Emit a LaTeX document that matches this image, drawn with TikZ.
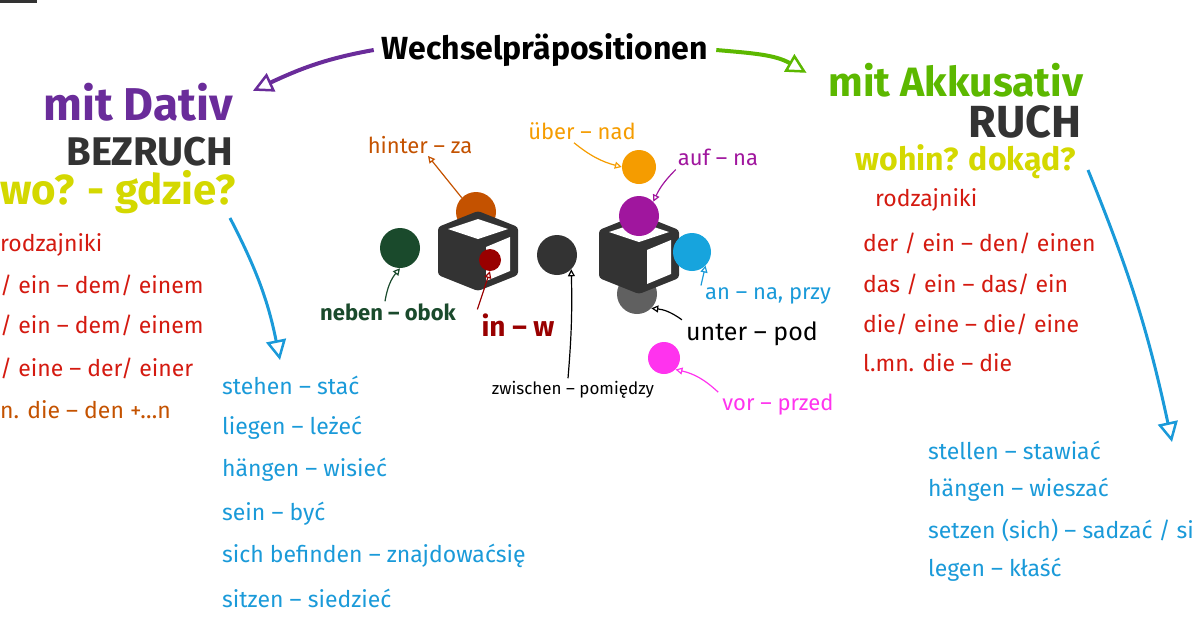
\documentclass[tikz,border=0pt]{standalone}
\usepackage{fontspec}
\setmainfont{Fira Sans}
\usetikzlibrary{arrows.meta,calc}
\definecolor{cpurple}{HTML}{6A2C9A}
\definecolor{cgreen}{HTML}{5CB800}
\definecolor{cyel}{HTML}{D4D800}
\definecolor{cred}{HTML}{D41A10}
\definecolor{cblue}{HTML}{1A9AD9}
\definecolor{cdark}{HTML}{333333}
\definecolor{cbrown}{HTML}{C45200}
\definecolor{corange}{HTML}{F59C00}
\definecolor{cmag}{HTML}{A0169E}
\definecolor{cpink}{HTML}{FF33EE}
\definecolor{cdgreen}{HTML}{1A4A2C}
\definecolor{cdred}{HTML}{990000}
\newcommand{\fsz}[1]{\fontsize{#1}{#1}\selectfont}
\tikzset{
 t/.style={inner sep=0pt},
 big/.style={t,font=\fsz{34}},
 mid/.style={t,font=\fsz{23}},
 lbl/.style={t,font=\fsz{22}},
 big arrow/.style={line width=4pt,-{Triangle[open,length=20pt,width=20pt,line width=2.5pt]}},
 thin arrow/.style={line width=1.2pt,-{Triangle[open,length=7pt,width=7pt]}},
 ball/.style={circle,inner sep=0pt},
}
\newcommand{\cube}[1]{%
 \begin{scope}[shift={#1}]
 \fill[cdark,rounded corners=3pt] (-40,-24) -- (0,-40) -- (40,-24) -- (40,24) -- (0,40) -- (-40,24) -- cycle;
 \fill[white] (-30,-22) -- (0,-32) -- (30,-22) -- (0,-12) -- cycle;
 \fill[white] (8,-4) -- (32,-14) -- (32,20) -- (8,30) -- cycle;
 \end{scope}}
\begin{document}
\begin{tikzpicture}[x=1pt,y=-1pt]
\useasboundingbox (0,0) rectangle (1200,630);
\fill[cdark] (0,0) rectangle (37,3);
\node[t,font=\fsz{32}\bfseries] (title) at (545,50) {Wechselpräpositionen};
\node[big,text=cpurple,font=\fsz{46}\bfseries] (dativ) at (138,102) {mit Dativ};
\node[big,text=cdark,font=\fsz{40}\bfseries] (bez) at (150,152) {BEZRUCH};
\node[big,text=cyel,font=\fsz{42}\bfseries,anchor=west] (wo) at (0,192) {wo? - gdzie?};
\node[big,text=cgreen,font=\fsz{41}\bfseries] (akk) at (956,80) {mit Akkusativ};
\node[big,text=cdark,font=\fsz{45}\bfseries] (ruch) at (1025,122) {RUCH};
\node[big,text=cyel,font=\fsz{32}\bfseries] (wohin) at (966,162) {wohin? dokąd?};
\draw[big arrow,cpurple] ([xshift=-8pt]title.west) to[out=190,in=25] ([xshift=20pt,yshift=-8pt]dativ.north east);
\draw[big arrow,cgreen] ([xshift=8pt]title.east) to[out=-5,in=150] ([xshift=-22pt,yshift=-10pt]akk.north west);
% lists
\begin{scope}[every node/.style={mid,text=cred,anchor=west}]
\node (r1) at (0,245) {rodzajniki};
\node (r2) at (0,285) {/ ein – dem/ einem};
\node (r3) at (0,325) {/ ein – dem/ einem};
\node (r4) at (0,368) {/ eine – der/ einer};
\node[text=cbrown] (r5) at (0,410) {n. die – den +…n};
\node (s1) at (875,200) {rodzajniki};
\node (s2) at (863,243) {der / ein – den/ einen};
\node (s3) at (863,284) {das / ein – das/ ein};
\node (s4) at (863,324) {die/ eine – die/ eine};
\node (s5) at (863,363) {l.mn. die – die};
\end{scope}
\begin{scope}[every node/.style={mid,text=cblue,anchor=west}]
\node (v1) at (222,385) {stehen – stać};
\node (v2) at (222,428) {liegen – leżeć};
\node (v3) at (222,470) {hängen – wisieć};
\node (v4) at (222,514) {sein – być};
\node (v5) at (222,556) {sich befinden – znajdowaćsię};
\node (v6) at (222,598) {sitzen – siedzieć};
\node (w1) at (928,450) {stellen – stawiać};
\node (w2) at (928,490) {hängen – wieszać};
\node (w3) at (928,530) {setzen (sich) – sadzać / si};
\node (w4) at (928,570) {legen – kłaść};
\end{scope}
\coordinate (a1s) at (230,218); \coordinate (a1e) at (280,360);
\coordinate (a2s) at (1088,170); \coordinate (a2e) at (1172,442);
\draw[big arrow,cblue,line width=3pt] (a1s) to[bend left=8] (a1e);
\draw[big arrow,cblue,line width=3pt] (a2s) to[bend left=5] (a2e);
% center
\node[ball,fill=cdgreen,minimum size=40pt] (neben) at (400,248) {};
\node[ball,fill=cbrown,minimum size=40pt] (hinter) at (476,212) {};
\cube{(478,251)}
\node[ball,fill=cdred,minimum size=22pt] (in) at (490,260) {};
\node[ball,fill=cdark,minimum size=40pt] (zw) at (557,255) {};
\node[ball,fill=gray!75!black,minimum size=40pt] (unter) at (637,294) {};
\cube{(639,254)}
\node[ball,fill=cmag,minimum size=40pt] (auf) at (639,216) {};
\node[ball,fill=corange,minimum size=34pt] (uber) at (639,167) {};
\node[ball,fill=cblue!90!cyan,minimum size=38pt] (an) at (692,252) {};
\node[ball,fill=cpink,minimum size=32pt] (vor) at (664,358) {};
\node[lbl,text=cbrown] (lhinter) at (420,145) {hinter – za};
\node[lbl,text=corange] (luber) at (582,131) {über – nad};
\node[lbl,text=cmag] (lauf) at (718,157) {auf – na};
\node[lbl,text=cdgreen,font=\fsz{22}\bfseries] (lneben) at (388,312) {neben – obok};
\node[lbl,text=cdred,font=\fsz{28}\bfseries] (lin) at (518,325) {in – w};
\node[lbl,text=black,font=\fsz{17}] (lzw) at (573,390) {zwischen – pomiędzy};
\node[lbl,text=cblue] (lan) at (768,296) {an – na, przy};
\node[lbl,text=black,font=\fsz{25}] (lunter) at (752,334) {unter – pod};
\node[lbl,text=cpink] (lvor) at (778,405) {vor – przed};
\draw[thin arrow,cbrown] (hinter.north west) -- ($(lhinter.south)+(8,2)$);
\draw[thin arrow,corange] ($(luber.south)+(-8,3)$) to[bend right=12] (uber.west);
\draw[thin arrow,cmag] ($(lauf.south west)+(-2,4)$) to[bend right=10] (auf.north east);
\draw[thin arrow,cdgreen] ($(lneben.north)+(-3,-2)$) to[bend left=15] (neben.south);
\draw[thin arrow,cdred] ($(lin.north west)+(-4,-4)$) -- (in.south);
\draw[thin arrow,black] ($(lzw.north)+(-5,-3)$) to[bend right=3] (zw.south east);
\draw[thin arrow,cblue] ($(lan.north west)+(-4,-2)$) -- (an.south east);
\draw[thin arrow,black] ($(lunter.north west)+(-4,-2)$) to[bend right=15] (unter.south east);
\draw[thin arrow,cpink] ($(lvor.north west)+(-4,-2)$) to[bend right=15] (vor.south east);
\end{tikzpicture}
\end{document}
